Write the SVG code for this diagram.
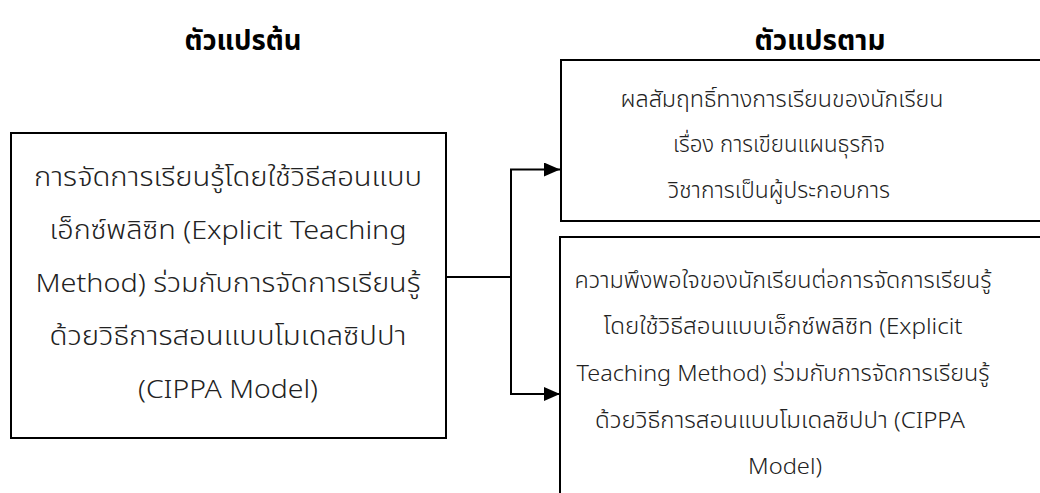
<svg xmlns="http://www.w3.org/2000/svg" width="1040" height="493" viewBox="0 0 1040 493">
<style>
.box{fill:#fff;stroke:#000;stroke-width:2}
.t{font-family:"Noto Sans Thai","Noto Sans","Liberation Sans",sans-serif;fill:#222;text-anchor:middle;font-weight:300}
.l{font-size:26.5px}
.r{font-size:22.5px}
.h{font-family:"Noto Sans Thai","Noto Sans","Liberation Sans",sans-serif;font-size:29px;font-weight:bold;text-anchor:middle;fill:#000}
.c{fill:none;stroke:#000;stroke-width:2}
</style>
<defs>
<marker id="ah" viewBox="0 0 16 14" refX="16" refY="7" markerWidth="16" markerHeight="14" markerUnits="userSpaceOnUse" orient="auto">
<path d="M0,0 L16,7 L0,14 Z" fill="#000"/>
</marker>
</defs>
<rect width="1040" height="493" fill="#fff"/>
<g id="headers">
<text class="h" x="243" y="50" textLength="117" lengthAdjust="spacingAndGlyphs">ตัวแปรต้น</text>
<text class="h" x="820" y="50" textLength="131" lengthAdjust="spacingAndGlyphs">ตัวแปรตาม</text>
</g>
<g id="independent">
<rect class="box" x="11" y="133" width="435" height="305"/>
<text class="t l" x="228" y="186" textLength="388" lengthAdjust="spacingAndGlyphs">การจัดการเรียนรู้โดยใช้วิธีสอนแบบ</text>
<text class="t l" x="228" y="239" textLength="357" lengthAdjust="spacingAndGlyphs">เอ็กซ์พลิซิท (Explicit Teaching</text>
<text class="t l" x="228" y="292" textLength="385" lengthAdjust="spacingAndGlyphs">Method) ร่วมกับการจัดการเรียนรู้</text>
<text class="t l" x="228" y="345" textLength="357" lengthAdjust="spacingAndGlyphs">ด้วยวิธีการสอนแบบโมเดลซิปปา</text>
<text class="t l" x="228" y="398" textLength="180" lengthAdjust="spacingAndGlyphs">(CIPPA Model)</text>
</g>
<g id="dependent1">
<rect class="box" x="561" y="60" width="500" height="161"/>
<text class="t r" x="782" y="107" textLength="323" lengthAdjust="spacingAndGlyphs">ผลสัมฤทธิ์ทางการเรียนของนักเรียน</text>
<text class="t r" x="779" y="152" textLength="212" lengthAdjust="spacingAndGlyphs">เรื่อง การเขียนแผนธุรกิจ</text>
<text class="t r" x="779" y="198" textLength="222" lengthAdjust="spacingAndGlyphs">วิชาการเป็นผู้ประกอบการ</text>
</g>
<g id="dependent2">
<rect class="box" x="560" y="237" width="500" height="280"/>
<text class="t r" x="783" y="287.5" textLength="417" lengthAdjust="spacingAndGlyphs">ความพึงพอใจของนักเรียนต่อการจัดการเรียนรู้</text>
<text class="t r" x="783" y="334" textLength="359" lengthAdjust="spacingAndGlyphs">โดยใช้วิธีสอนแบบเอ็กซ์พลิซิท (Explicit</text>
<text class="t r" x="783" y="380.5" textLength="413" lengthAdjust="spacingAndGlyphs">Teaching Method) ร่วมกับการจัดการเรียนรู้</text>
<text class="t r" x="780" y="427.5" textLength="370" lengthAdjust="spacingAndGlyphs">ด้วยวิธีการสอนแบบโมเดลซิปปา (CIPPA</text>
<text class="t r" x="785" y="474" textLength="74" lengthAdjust="spacingAndGlyphs">Model)</text>
</g>
<g id="connectors">
<path class="c" d="M446,277 H511"/>
<path class="c" d="M511,169.5 V394"/>
<path class="c" d="M510,169.5 H560" marker-end="url(#ah)"/>
<path class="c" d="M510,394 H560" marker-end="url(#ah)"/>
</g>
</svg>
